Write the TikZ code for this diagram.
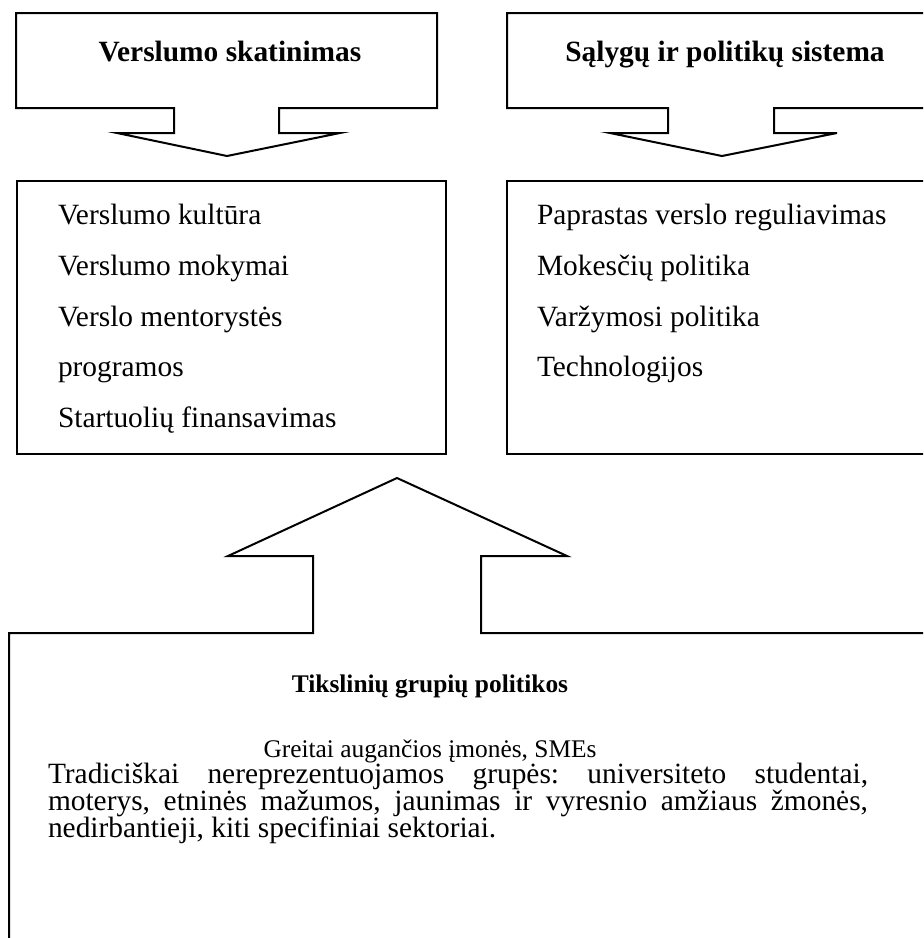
\documentclass[tikz,border=0pt]{standalone}
\usepackage{fontspec}
\setmainfont{Liberation Serif}
\frenchspacing
\newcommand\topfont{\fontsize{14.7pt}{17pt}\selectfont}
\newcommand\botfont{\fontsize{12.7pt}{15pt}\selectfont}
\newcommand\parfont{\fontsize{14.7pt}{17pt}\selectfont\frenchspacing}
\begin{document}
\begin{tikzpicture}[x=0.5pt,y=-0.5pt,
  shape line/.style={draw=black,line width=1pt,line join=miter},
  txt/.style={inner sep=0pt,outer sep=0pt,anchor=base west,font=\topfont},
  ttl/.style={inner sep=0pt,outer sep=0pt,anchor=base,font=\topfont\bfseries},
  btxt/.style={inner sep=0pt,outer sep=0pt,anchor=base west,font=\parfont},
  bttl/.style={inner sep=0pt,outer sep=0pt,anchor=base,font=\botfont\bfseries}]
\useasboundingbox (0,0) rectangle (923,938);
\clip (0,0) rectangle (923,938);
% top-left callout
\draw[shape line] (16,13) -- (437,13) -- (437,108) -- (279,108) -- (279,133) -- (340,133) -- (227,156) -- (117,133) -- (174,133) -- (174,108) -- (16,108) -- cycle;
% top-right callout
\draw[shape line] (507,13) -- (935,13) -- (935,108) -- (774,108) -- (774,133) -- (837,133) -- (722,156) -- (610,133) -- (668,133) -- (668,108) -- (507,108) -- cycle;
\node[ttl] (t1) at (230,61) {Verslumo skatinimas};
\node[ttl] (t2) at (725,61) {Sąlygų ir politikų sistema};
% middle boxes
\draw[shape line] (17,181) rectangle (446,454);
\draw[shape line] (507,181) rectangle (935,454);
\node[txt] (l1) at (58,224) {Verslumo kultūra};
\node[txt] (l2) at (58,275) {Verslumo mokymai};
\node[txt] (l3) at (58,326) {Verslo mentorystės};
\node[txt] (l4) at (58,376) {programos};
\node[txt] (l5) at (58,427) {Startuolių finansavimas};
\node[txt] (r1) at (537,224) {Paprastas verslo reguliavimas};
\node[txt] (r2) at (537,275) {Mokesčių politika};
\node[txt] (r3) at (537,326) {Varžymosi politika};
\node[txt] (r4) at (537,376) {Technologijos};
% bottom up-arrow callout
\draw[shape line] (9,950) -- (9,633) -- (313,633) -- (313,556) -- (228,556) -- (397,478) -- (567,556) -- (481,556) -- (481,633) -- (935,633) -- (935,950);
\node[bttl] (bt) at (430,692) {Tikslinių grupių politikos};
\node[inner sep=0pt,anchor=base,font=\botfont] (b0) at (430,757) {Greitai augančios įmonės, SMEs};
\node[btxt] (b1) at (48,783) {\makebox[410pt][s]{Tradiciškai nereprezentuojamos grupės: universiteto studentai,}};
\node[btxt] (b2) at (48,810) {\makebox[410pt][s]{moterys, etninės mažumos, jaunimas ir vyresnio amžiaus žmonės,}};
\node[btxt] (b3) at (48,837) {nedirbantieji, kiti specifiniai sektoriai.};
\end{tikzpicture}
\end{document}
